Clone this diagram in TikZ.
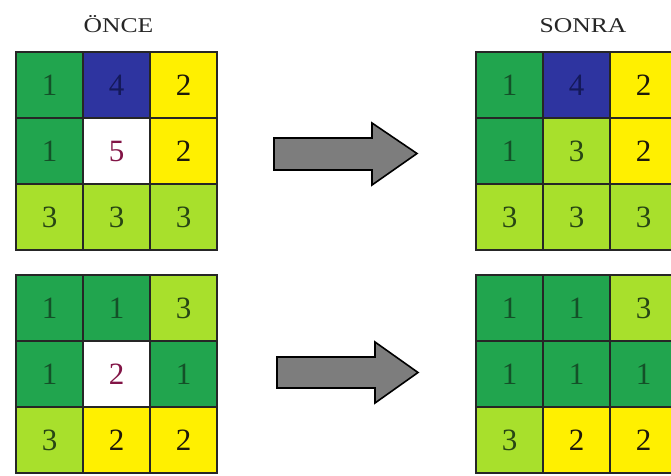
\documentclass[tikz,border=0pt]{standalone}
\usepackage{fontspec}
\setmainfont{Liberation Serif}

% cell fills
\definecolor{dkgreen}{RGB}{33,165,78}
\definecolor{navy}{RGB}{46,52,160}
\definecolor{sun}{RGB}{255,240,0}
\definecolor{ltgreen}{RGB}{168,224,44}
% digit colours
\definecolor{tdk}{RGB}{20,80,40}
\definecolor{tnavy}{RGB}{20,25,90}
\definecolor{tsun}{RGB}{30,25,10}
\definecolor{tlt}{RGB}{40,70,20}
\definecolor{twhite}{RGB}{130,20,70}
\definecolor{arrowgray}{RGB}{125,125,125}

% one 3x3 grid: name, left x, top y, list of fill/digit-colour/digit
\newcommand\cellgrid[4]{%
  \foreach [count=\i from 0] \f/\t/\d in {#4} {%
    \pgfmathtruncatemacro\rr{\i/3}%
    \pgfmathtruncatemacro\cc{mod(\i,3)}%
    \node[cellbox, fill=\f, text=\t] (#1-\rr\cc)
      at ({#2+33.5+67*\cc},{#3+33+66*\rr}) {\d};
  }%
}

\begin{document}
\begin{tikzpicture}[x=1pt,y=-1pt,
  cellbox/.style={draw=black!85, line width=1.7pt, minimum width=67pt,
    minimum height=66pt, inner sep=0pt, font=\fontsize{31}{33}\selectfont},
  title/.style={anchor=base, text=black!85, font=\fontsize{21}{24}\selectfont},
  bigarrow/.style={draw=black, line width=1.6pt, fill=arrowgray, line join=miter}]
\useasboundingbox (0,0) rectangle (671,475);
\fill[white] (0,0) rectangle (671,475);
\clip (0,0) rectangle (671,475);

% column titles
\node[title] (before) at (118.5,32) {\scalebox{1.22}[1]{ÖNCE}};
\node[title] (after) at (583,32) {\scalebox{1.22}[1]{SONRA}};

% upper pair
\cellgrid{ua}{16}{52}{dkgreen/tdk/1, navy/tnavy/4, sun/tsun/2,
  dkgreen/tdk/1, white/twhite/5, sun/tsun/2,
  ltgreen/tlt/3, ltgreen/tlt/3, ltgreen/tlt/3}
\cellgrid{ub}{476}{52}{dkgreen/tdk/1, navy/tnavy/4, sun/tsun/2,
  dkgreen/tdk/1, ltgreen/tlt/3, sun/tsun/2,
  ltgreen/tlt/3, ltgreen/tlt/3, ltgreen/tlt/3}

% lower pair
\cellgrid{la}{16}{275}{dkgreen/tdk/1, dkgreen/tdk/1, ltgreen/tlt/3,
  dkgreen/tdk/1, white/twhite/2, dkgreen/tdk/1,
  ltgreen/tlt/3, sun/tsun/2, sun/tsun/2}
\cellgrid{lb}{476}{275}{dkgreen/tdk/1, dkgreen/tdk/1, ltgreen/tlt/3,
  dkgreen/tdk/1, dkgreen/tdk/1, dkgreen/tdk/1,
  ltgreen/tlt/3, sun/tsun/2, sun/tsun/2}

% block arrows
\draw[bigarrow] (274,138) -- (372,138) -- (372,123) -- (417,153.5)
  -- (372,185) -- (372,170) -- (274,170) -- cycle;
\draw[bigarrow] (277,357) -- (375,357) -- (375,342) -- (418,372.5)
  -- (375,403) -- (375,388) -- (277,388) -- cycle;
\end{tikzpicture}
\end{document}
